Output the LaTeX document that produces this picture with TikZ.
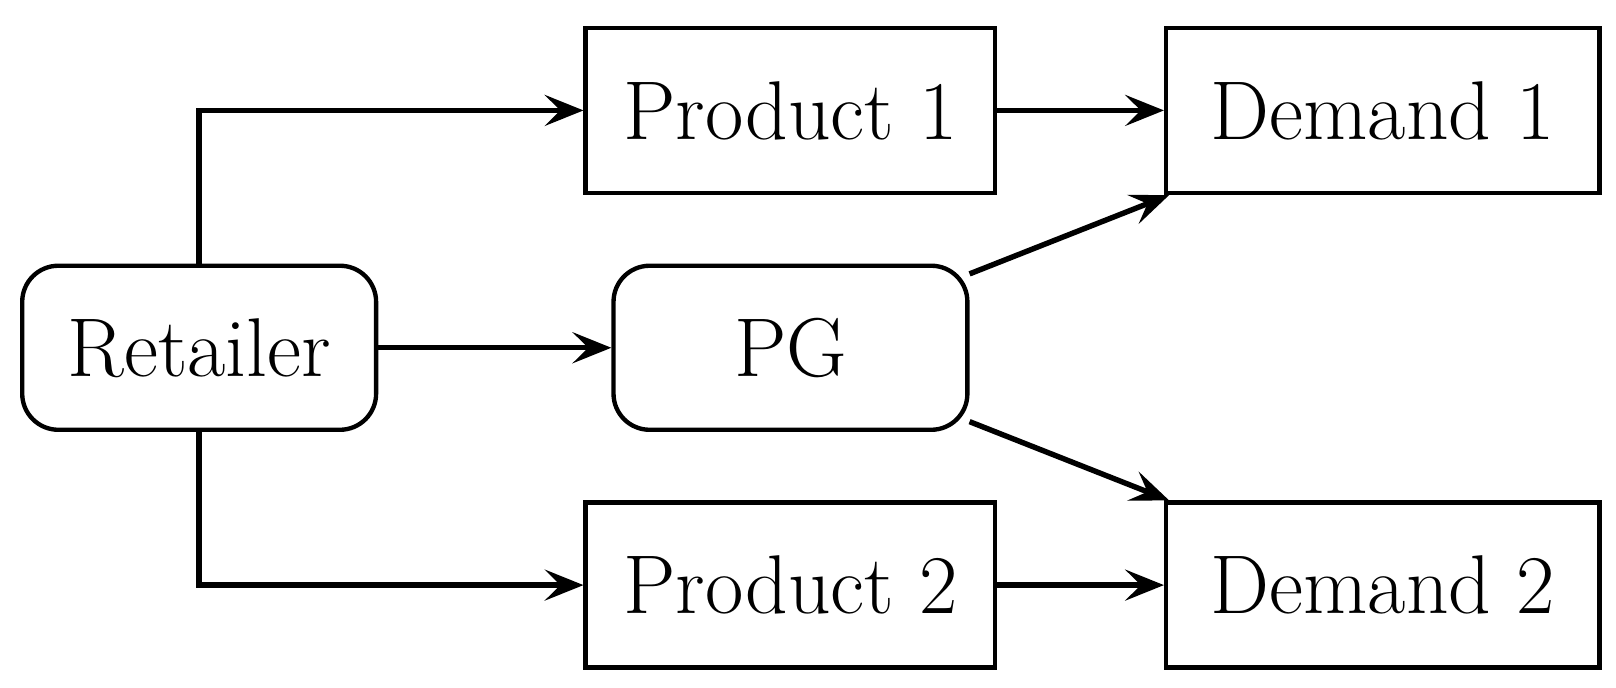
\documentclass[tikz,border=0pt]{standalone}
\usetikzlibrary{arrows.meta}
\begin{document}
\begin{tikzpicture}[x=0.02cm,y=-0.02cm,
  box/.style={draw,line width=2.4pt,minimum width=7.94cm,minimum height=3.2cm,inner sep=0pt,font=\fontsize{46}{50}\selectfont},
  dbox/.style={box,minimum width=8.4cm},
  rbox/.style={box,rounded corners=0.7cm,minimum width=6.86cm,minimum height=3.18cm},
  arr/.style={line width=3pt,-{Stealth[length=0.75cm,width=0.6cm,inset=0.3cm]}}]
\useasboundingbox (0,0) rectangle (1566,666);
\node[box] (p1) at (766,107) {Product 1};
\node[dbox] (d1) at (1340,107) {Demand 1};
\node[rbox] (r) at (193,337) {Retailer};
\node[rbox] (pg) at (766,337) {PG};
\node[box] (p2) at (766,567) {Product 2};
\node[dbox] (d2) at (1340,567) {Demand 2};
\draw[arr] (r.north) |- (p1.west);
\draw[arr] (r.south) |- (p2.west);
\draw[arr] (r.east) -- (pg.west);
\draw[arr] (p1.east) -- (d1.west);
\draw[arr] (p2.east) -- (d2.west);
\draw[arr] ([yshift=-0.2cm]pg.north east) -- ([xshift=0.1cm]d1.south west);
\draw[arr] ([yshift=0.2cm]pg.south east) -- ([xshift=0.1cm]d2.north west);
\end{tikzpicture}
\end{document}
